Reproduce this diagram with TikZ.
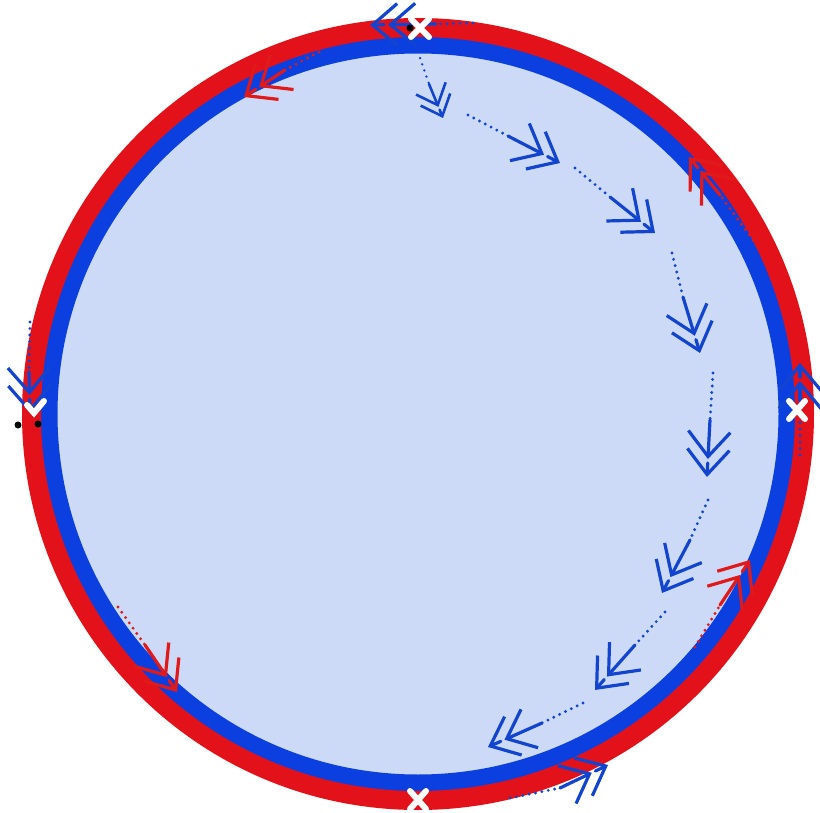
\documentclass[tikz,border=0pt]{standalone}
\usetikzlibrary{arrows.meta,calc}
\definecolor{ringred}{HTML}{E3121A}
\definecolor{ringblue}{HTML}{0B3FDF}
\definecolor{fillblue}{HTML}{CCDAF7}
\definecolor{arrowblue}{HTML}{1244D0}
\definecolor{arrowred}{HTML}{E01A1A}
\tikzset{
  dots/.style={line width=3.2pt, dash pattern=on 0pt off 6.5pt, line cap=round},
  chev/.style={-{Straight Barb[length=25pt,width=42pt]}, line width=3.2pt, line cap=round},
  smallchev/.style={-{Straight Barb[length=18pt,width=32pt]}, line width=2.6pt, line cap=round},
  whitex/.style={white, line width=6pt, line cap=round},
}
\newcommand{\dblarrow}[5]{%
  % #1 colour, #2 chevron style, #3 start, #4 mid, #5 tip
  \draw[dots, #1] (#3) -- (#4);
  \draw[#2, #1, shorten >=18pt] (#4) -- (#5);
  \draw[#2, #1] ($(#5)!14pt!(#4)$) -- (#5);
}
\begin{document}
\begin{tikzpicture}[x=1pt,y=-1pt]
\useasboundingbox (0,0) rectangle (820,813);
\coordinate (C) at (418,414);
% disc and rings
\fill[fillblue] (C) circle (361);
\draw[ringblue, line width=17pt] (C) circle (369);
\draw[ringred, line width=19pt] (C) circle (386.5);

% inner chain of blue arrows
\coordinate (s1) at (418,52);  \coordinate (m1) at (429,84);  \coordinate (t1) at (443,118);
\coordinate (s2) at (468,115); \coordinate (m2) at (508,136); \coordinate (t2) at (560,163);
\coordinate (s3) at (575,168); \coordinate (m3) at (610,197); \coordinate (t3) at (655,233);
\coordinate (s4) at (672,253); \coordinate (m4) at (683,297); \coordinate (t4) at (700,353);
\coordinate (s5) at (713,373); \coordinate (m5) at (710,420); \coordinate (t5) at (707,477);
\coordinate (s6) at (708,500); \coordinate (m6) at (690,540); \coordinate (t6) at (662,593);
\coordinate (s7) at (665,612); \coordinate (m7) at (635,645); \coordinate (t7) at (595,690);
\coordinate (s8) at (583,703); \coordinate (m8) at (542,723); \coordinate (t8) at (488,747);
\draw[dots, arrowblue, line width=2.6pt] (s1) -- (m1);
\draw[smallchev, arrowblue, shorten >=12pt] (m1) -- (t1);
\draw[smallchev, arrowblue] ($(t1)!9pt!(m1)$) -- (t1);
\dblarrow{arrowblue}{chev}{s2}{m2}{t2}
\dblarrow{arrowblue}{chev}{s3}{m3}{t3}
\dblarrow{arrowblue}{chev}{s4}{m4}{t4}
\dblarrow{arrowblue}{chev}{s5}{m5}{t5}
\dblarrow{arrowblue}{chev}{s6}{m6}{t6}
\dblarrow{arrowblue}{chev}{s7}{m7}{t7}
\dblarrow{arrowblue}{chev}{s8}{m8}{t8}

% red arrows along the rings
\coordinate (ra1) at (319,52);  \coordinate (rb1) at (285,70);  \coordinate (rc1) at (244,97);
\coordinate (ra2) at (753,240); \coordinate (rb2) at (720,195); \coordinate (rc2) at (689,157);
\coordinate (ra3) at (118,607); \coordinate (rb3) at (145,645); \coordinate (rc3) at (177,692);
\coordinate (ra4) at (695,647); \coordinate (rb4) at (720,605); \coordinate (rc4) at (750,560);
\dblarrow{arrowred}{chev}{ra1}{rb1}{rc1}
\dblarrow{arrowred}{chev}{ra2}{rb2}{rc2}
\dblarrow{arrowred}{chev}{ra3}{rb3}{rc3}
\dblarrow{arrowred}{chev}{ra4}{rb4}{rc4}

% blue arrows on the outer ring
\coordinate (ba1) at (473,23);  \coordinate (bb1) at (436,24);  \coordinate (bc1) at (370,25);
\coordinate (ba2) at (30,322);  \coordinate (bb2) at (29,372);  \coordinate (bc2) at (30,413);
\coordinate (ba3) at (800,455); \coordinate (bb3) at (800,400); \coordinate (bc3) at (800,363);
\coordinate (ba4) at (510,798); \coordinate (bb4) at (560,788); \coordinate (bc4) at (608,765);
\dblarrow{arrowblue}{chev}{ba1}{bb1}{bc1}
\dblarrow{arrowblue}{chev}{ba2}{bb2}{bc2}
\dblarrow{arrowblue}{chev}{ba3}{bb3}{bc3}
\dblarrow{arrowblue}{chev}{ba4}{bb4}{bc4}

% small black dots
\fill[black] (410,28) circle (3.5);
\fill[black] (18,425) circle (3.5);
\fill[black] (38,424) circle (3.5);

% white marks on the ring
\coordinate (wT) at (420,28);
\coordinate (wB) at (418,800);
\coordinate (wL) at (34,408);
\coordinate (wR) at (797,410);
\draw[whitex] ($(wT)+(-9,-9)$) -- ($(wT)+(9,9)$) ($(wT)+(-9,9)$) -- ($(wT)+(9,-9)$);
\draw[whitex] ($(wB)+(-8,-9)$) -- ($(wB)+(8,9)$) ($(wB)+(-8,9)$) -- ($(wB)+(8,-9)$);
\draw[whitex] ($(wL)+(-7,-3)$) -- ($(wL)+(0,5)$) -- ($(wL)+(10,-7)$);
\draw[whitex] ($(wR)+(-8,-9)$) -- ($(wR)+(8,9)$) ($(wR)+(-8,9)$) -- ($(wR)+(8,-9)$);
\end{tikzpicture}
\end{document}
